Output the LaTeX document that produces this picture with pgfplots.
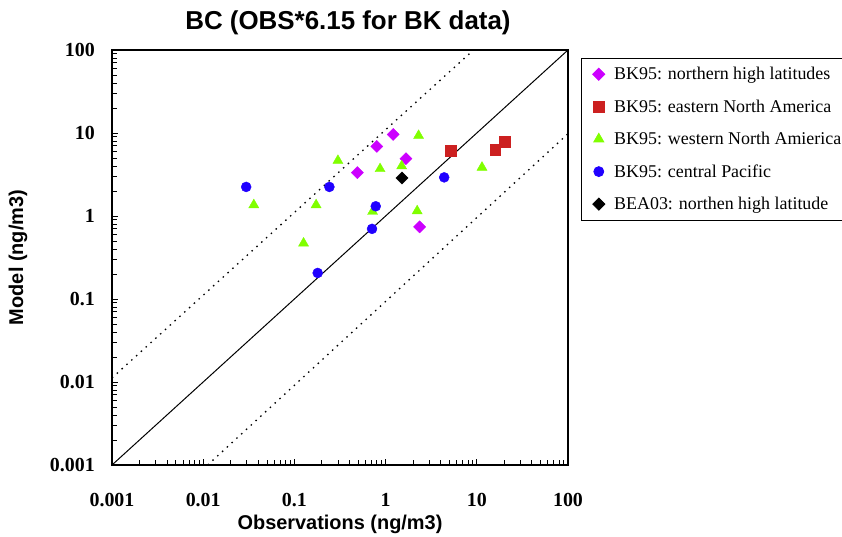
\documentclass[border=0pt]{standalone}
\usepackage{pgfplots}
\pgfplotsset{compat=1.18}
\usepackage{fontspec}
\setmainfont{Liberation Serif}
\newfontfamily\arialfont{Liberation Sans}
\definecolor{cmag}{RGB}{204,0,255}
\definecolor{cred}{RGB}{204,32,32}
\definecolor{cgreen}{RGB}{128,255,0}
\definecolor{cblue}{RGB}{32,0,255}
\begin{document}
\begin{tikzpicture}
\useasboundingbox (0,0) rectangle (842bp,537bp);
\begin{axis}[
  at={(112bp,72bp)}, anchor=south west,
  scale only axis, width=456bp, height=415bp,
  xmode=log, ymode=log,
  xmin=0.001, xmax=100, ymin=0.001, ymax=100,
  xtick={0.001,0.01,0.1,1,10,100},
  xticklabels={0.001,0.01,0.1,1,10,100},
  ytick={0.001,0.01,0.1,1,10,100},
  yticklabels={0.001,0.01,0.1,1,10,100},
  tick align=inside,
  xtick pos=bottom, ytick pos=left,
  major tick length=6bp, minor tick length=5bp,
  tick style={black, line width=0.8bp},
  axis line style={line width=1.2bp},
  xticklabel style={font=\fontsize{20}{20}\selectfont\bfseries, inner sep=0pt, anchor=north, yshift=-28bp},
  yticklabel style={font=\fontsize{20}{20}\selectfont\bfseries, inner sep=0pt, anchor=east, xshift=-17bp},
  title={BC (OBS*6.15 for BK data)},
  title style={font=\arialfont\bfseries\fontsize{26}{26}\selectfont, at={(axis description cs:0.5175,1.0506)}, anchor=center, yshift=0pt},
  xlabel={Observations (ng/m3)},
  xlabel style={font=\arialfont\bfseries\fontsize{20}{20}\selectfont, at={(axis description cs:0.5,-0.142)}, anchor=center},
  ylabel={Model (ng/m3)},
  ylabel style={font=\arialfont\bfseries\fontsize{20}{20}\selectfont, at={(axis description cs:-0.206,0.5)}, anchor=center},
  legend style={at={(axis description cs:1.0285,0.981)}, anchor=north west, draw=black, line width=0.8bp,
    font=\fontsize{18}{18}\selectfont, inner xsep=0pt, inner ysep=7bp, row sep=14.5bp,
    cells={anchor=west}},
  legend image code/.code={\path (-17bp,0bp) (13bp,0bp); \draw[#1] plot coordinates {(0bp,0bp)};},
]
\addplot[black, line width=1bp, forget plot] coordinates {(0.001,0.001) (100,100)};
\addplot[black, line width=1.3bp, dash pattern=on 1.5bp off 5bp, forget plot] coordinates {(0.001,0.0112) (9.2,100)};
\addplot[black, line width=1.3bp, dash pattern=on 1.5bp off 5bp, forget plot] coordinates {(0.0112,0.001) (100,9.8)};

\addplot[only marks, mark=square*, mark size=4.3bp, mark options={rotate=45, fill=cmag, draw=cmag}] coordinates {
  (1.21,9.6) (0.80,6.9) (1.67,4.9) (0.49,3.33) (2.36,0.74)};
\addlegendentry{BK95: northern high latitudes}
\addplot[only marks, mark=square*, mark size=5.3bp, mark options={fill=cred, draw=cred}] coordinates {
  (5.19,6.07) (15.9,6.3) (20.3,7.9)};
\addlegendentry{BK95: eastern North America}
\addplot[only marks, mark=triangle*, mark size=5.8bp, mark options={fill=cgreen, draw=cgreen}] coordinates {
  (2.30,9.3) (0.30,4.65) (0.87,3.7) (1.50,4.0) (11.4,3.85) (0.0359,1.36) (0.173,1.36) (0.72,1.13) (2.22,1.15) (0.126,0.47)};
\addlegendentry{BK95: western North Amierica}
\addplot[only marks, mark=*, mark size=5bp, mark options={fill=cblue, draw=cblue}] coordinates {
  (0.0296,2.24) (0.242,2.24) (0.78,1.31) (0.71,0.70) (0.18,0.206) (4.39,2.92)};
\addlegendentry{BK95: central Pacific}
\addplot[only marks, mark=square*, mark size=4.3bp, mark options={rotate=45, fill=black, draw=black}] coordinates {
  (1.51,2.87)};
\addlegendentry{BEA03: northen high latitude}
\end{axis}
\end{tikzpicture}
\end{document}
